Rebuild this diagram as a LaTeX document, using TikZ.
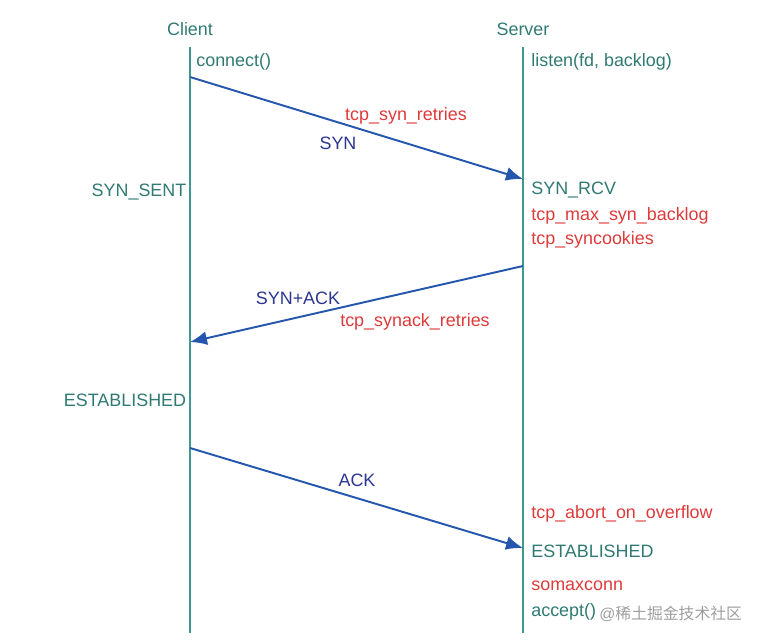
\documentclass[tikz,border=0pt]{standalone}
\usepackage{fontspec}
\setmainfont{Liberation Sans}
\newfontfamily\cjkfont{Noto Sans CJK SC}
\usetikzlibrary{arrows.meta,positioning}
\usepackage{xcolor}
\definecolor{lifeteal}{HTML}{3D9A93}
\definecolor{stateteal}{HTML}{2F7A72}
\definecolor{msgblue}{HTML}{2456AE}
\definecolor{msgnavy}{HTML}{2A3690}
\definecolor{paramred}{HTML}{DD3A3A}
\tikzset{
  lbl/.style={inner sep=0pt, yshift=-1.1pt, font=\fontsize{10.2}{12}\selectfont},
  actor/.style={lbl, text=stateteal},
  state/.style={lbl, text=stateteal},
  param/.style={lbl, text=paramred},
  msg/.style={lbl, text=msgnavy},
  lifeline/.style={draw=lifeteal, line width=1.2pt},
  arrow/.style={-{Latex[length=3.4mm,width=2.8mm]}, line width=1.1pt, draw=msgblue}
}
\begin{document}
\begin{tikzpicture}[x=0.02cm, y=-0.02cm]
  \useasboundingbox (0,0) rectangle (762,640);
  % lifelines
  \node[actor] (client) at (190,27) {Client};
  \node[actor] (server) at (523,27) {Server};
  \coordinate (ctop) at (190,47);
  \coordinate (cbot) at (190,633);
  \coordinate (stop) at (523,47);
  \coordinate (sbot) at (523,633);
  \draw[lifeline] (ctop) -- (cbot);
  \draw[lifeline] (stop) -- (sbot);
  % client side
  \node[state, anchor=west] (connect) at (196,60) {connect()};
  \node[state] (synsent) at (139,190) {SYN\_SENT};
  \node[state] (cestab) at (125,398) {ESTABLISHED};
  % server side
  \node[state, anchor=west] (listen) at (531,60) {listen(fd, backlog)};
  \node[state, anchor=west] (synrcv) at (531,188) {SYN\_RCV};
  \node[param, anchor=west] (maxsyn) at (531,214) {tcp\_max\_syn\_backlog};
  \node[param, anchor=west] (cookies) at (531,238) {tcp\_syncookies};
  \node[param, anchor=west] (abort) at (531,512) {tcp\_abort\_on\_overflow};
  \node[state, anchor=west] (sestab) at (531,549) {ESTABLISHED};
  \node[param, anchor=west] (somax) at (531,584) {somaxconn};
  \node[state, anchor=west] (accept) at (531,610) {accept()};
  \node[lbl, anchor=west, text=black!38, font=\fontsize{9}{11}\selectfont, right=1.5pt of accept] (mark) {@\cjkfont 稀土掘金技术社区};
  % handshake
  \coordinate (syn1) at (190,77);
  \coordinate (syn2) at (523,179);
  \coordinate (sa1) at (523,266);
  \coordinate (sa2) at (190,342);
  \coordinate (ack1) at (190,448);
  \coordinate (ack2) at (523,548);
  \draw[arrow] (syn1) -- (syn2);
  \draw[arrow] (sa1) -- (sa2);
  \draw[arrow] (ack1) -- (ack2);
  \node[param] (synretry) at (406,114) {tcp\_syn\_retries};
  \node[msg] (syn) at (338,141) {SYN};
  \node[msg] (synack) at (298,296) {SYN+ACK};
  \node[param] (saretry) at (415,320) {tcp\_synack\_retries};
  \node[msg] (ack) at (357,478) {ACK};
\end{tikzpicture}
\end{document}
